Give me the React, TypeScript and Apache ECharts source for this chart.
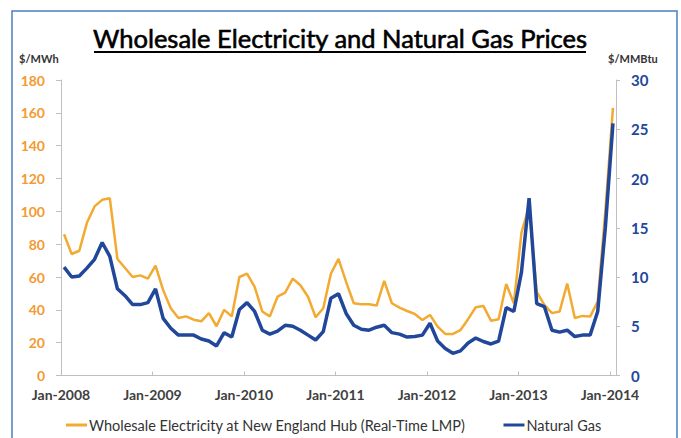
import React, { useEffect, useRef } from "react";
import * as echarts from "echarts";

const startYear = 2008;
const yearTicks = [0, 12, 24, 36, 48, 60, 72];
const elecLabel = "Wholesale Electricity at New England Hub (Real-Time LMP)";
const gasLabel = "Natural Gas";

// Monthly values Jan-2008 .. Jan-2014 (73 months)
const electricity = [
  86, 74, 76, 93, 103, 107, 108, 71, 65.5, 60, 61, 59,
  67, 52, 41, 35, 36, 34, 33, 38, 30, 40, 36, 60,
  62, 54, 39, 36, 48, 50.5, 59, 55, 48, 35.5, 41, 62,
  71, 57, 44, 43.4, 43.4, 42.6, 57.6, 44, 41.3, 39.3, 37.5, 33.8,
  36.9, 29.8, 25.3, 25.3, 27.7, 34.3, 41.6, 42.4, 33.4, 34.3, 55.8, 44,
  87, 103, 51, 43, 38, 39, 56, 35, 36.3, 35.9, 45, 100,
  163,
];
const naturalGas = [
  11.0, 10.0, 10.1, 10.9, 11.8, 13.5, 12.1, 8.8, 8.1, 7.2, 7.2, 7.4,
  8.8, 5.8, 4.8, 4.1, 4.1, 4.1, 3.7, 3.5, 3.0, 4.35, 3.9, 6.7,
  7.4, 6.5, 4.6, 4.2, 4.5, 5.1, 5.0, 4.6, 4.1, 3.6, 4.45, 7.85,
  8.3, 6.3, 5.1, 4.7, 4.6, 4.9, 5.1, 4.35, 4.2, 3.9, 3.95, 4.1,
  5.3, 3.5, 2.75, 2.25, 2.5, 3.3, 3.8, 3.45, 3.2, 3.5, 6.9, 6.5,
  10.5, 18.0, 7.3, 7.0, 4.6, 4.4, 4.6, 3.95, 4.1, 4.1, 6.5, 15,
  25.6,
];

const ORANGE = "#F3AA30";
const BLUE = "#21479B";
const FONT = "Lato";

export default function App() {
  const ref = useRef<HTMLDivElement>(null);
  useEffect(() => {
    if (!ref.current) return;
    const chart = echarts.init(ref.current, undefined, { renderer: "svg" });
    const monthOffset = 0.4;
    const option: any = {
      animation: false,
      backgroundColor: "#ffffff",
      textStyle: { fontFamily: FONT },
      grid: { left: 61, right: 65, top: 80, bottom: 62.5, containLabel: false },
      xAxis: {
        type: "value",
        min: 0,
        max: 72.8,
        interval: 12,
        axisLine: { show: true, lineStyle: { color: "#BFBFBF", width: 1 } },
        axisTick: { show: true, inside: true, length: 4, customValues: yearTicks, lineStyle: { color: "#BFBFBF" } },
        axisLabel: {
          customValues: yearTicks,
          formatter: (v: number) => "Jan-" + (startYear + Math.round(v / 12)),
          color: "#404040",
          fontFamily: FONT,
          fontSize: 14,
          fontWeight: "bold",
          margin: 12,
        },
        splitLine: { show: false },
      },
      yAxis: [
        {
          type: "value",
          position: "left",
          min: 0,
          max: 180,
          interval: 20,
          axisLine: { show: true, lineStyle: { color: "#BFBFBF" } },
          axisTick: { show: true, length: 5, lineStyle: { color: "#BFBFBF" } },
          axisLabel: { color: "#F39A32", fontFamily: FONT, fontSize: 14, fontWeight: "bold", margin: 16 },
          splitLine: { show: false },
        },
        {
          type: "value",
          position: "right",
          min: 0,
          max: 30,
          interval: 5,
          axisLine: { show: true, lineStyle: { color: "#BFBFBF" } },
          axisTick: { show: true, length: 4, lineStyle: { color: "#BFBFBF" } },
          axisLabel: { color: BLUE, fontFamily: FONT, fontSize: 15, fontWeight: "bold", margin: 15 },
          splitLine: { show: false },
        },
      ],
      legend: {
        left: 66,
        top: 416,
        padding: 0,
        itemGap: 38,
        itemWidth: 21,
        itemHeight: 3,
        icon: "rect",
        textStyle: { color: "#333333", fontFamily: FONT, fontSize: 14.5, lineHeight: 18, padding: [0, 0, 0, -3] },
        data: [elecLabel, gasLabel],
      },
      series: [
        {
          name: elecLabel,
          type: "line",
          yAxisIndex: 0,
          showSymbol: false,
          symbol: "none",
          color: ORANGE,
          lineStyle: { color: ORANGE, width: 2.5 },
          data: electricity.map((v, i) => [i + monthOffset, v]),
        },
        {
          name: gasLabel,
          type: "line",
          yAxisIndex: 1,
          showSymbol: false,
          symbol: "none",
          color: BLUE,
          lineStyle: { color: BLUE, width: 3.5 },
          data: naturalGas.map((v, i) => [i + monthOffset, v]),
        },
      ],
      graphic: [
        {
          type: "rect",
          silent: true,
          shape: { x: 12, y: 11, width: 665, height: 450 },
          style: { fill: "none", stroke: "#4A7FC1", lineWidth: 1.5 },
        },
        {
          type: "text",
          x: 340,
          y: 38,
          style: {
            text: "Wholesale Electricity and Natural Gas Prices",
            fill: "#000000",
            font: `25.5px ${FONT}`,
            textAlign: "center",
            textVerticalAlign: "middle",
            stroke: "#000000",
            lineWidth: 0.6,
          },
        },
        {
          type: "line",
          shape: { x1: 94, y1: 52, x2: 586, y2: 52 },
          style: { stroke: "#000000", lineWidth: 2 },
        },
        {
          type: "text",
          x: 19,
          y: 58,
          style: { text: "$/MWh", fill: "#333333", font: `bold 11px ${FONT}`, textAlign: "left", textVerticalAlign: "middle" },
        },
        {
          type: "text",
          x: 608,
          y: 58,
          style: { text: "$/MMBtu", fill: "#333333", font: `bold 11px ${FONT}`, textAlign: "left", textVerticalAlign: "middle" },
        },
      ],
    };
    chart.setOption(option);
    return () => chart.dispose();
  }, []);
  return (
    <div
      ref={ref}
      style={{ position: "fixed", left: 0, top: 0, width: 681, height: 438, background: "#fff" }}
    />
  );
}
